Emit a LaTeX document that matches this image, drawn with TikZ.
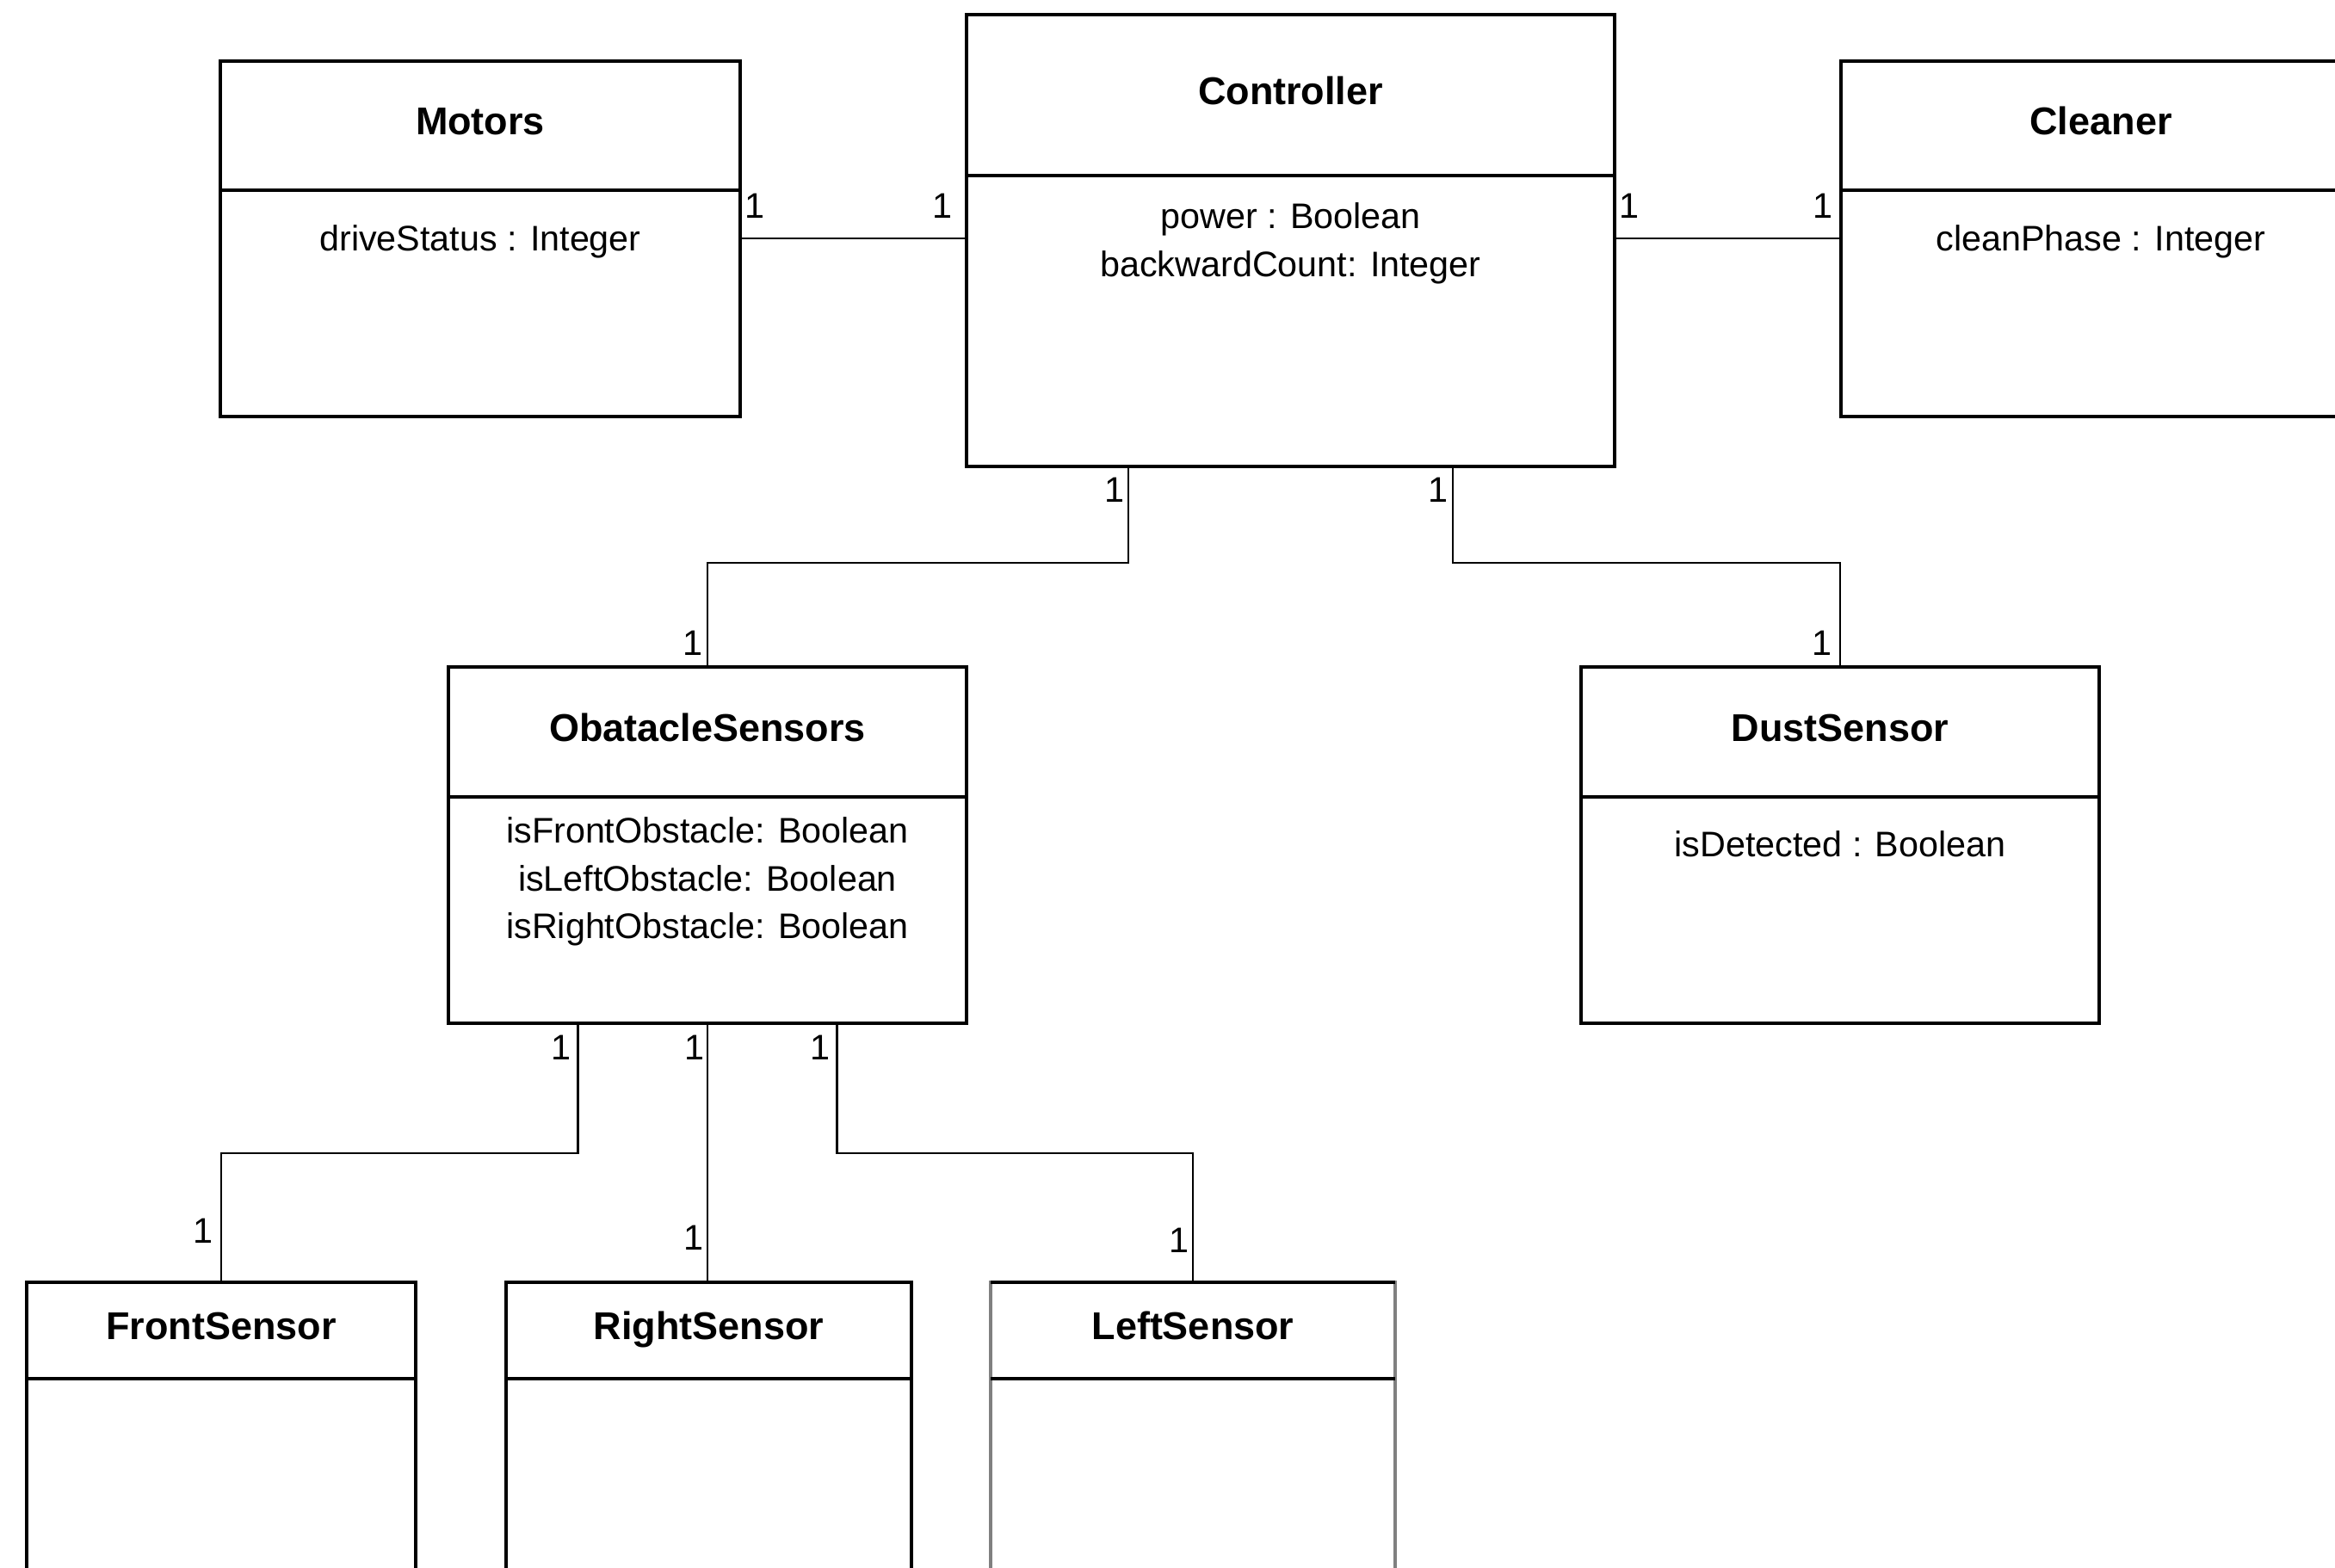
\documentclass[tikz,border=0pt]{standalone}
\usepackage{fontspec}
\setmainfont{Liberation Sans}
\usetikzlibrary{positioning,calc}
\newcommand{\titlefont}{\fontsize{12.8}{15}\selectfont\bfseries}
\newcommand{\attrfont}{\fontsize{11.75}{15.8}\selectfont}
\tikzset{
  clshead/.style={draw, line width=0.9pt, inner sep=0pt, outer sep=0pt, anchor=north west, font=\titlefont, text height=0.72em, text depth=0.1em},
  clsbody/.style={draw, line width=0.9pt, inner sep=0pt, outer sep=0pt},
  attr/.style={font=\attrfont, align=center, inner sep=0pt, anchor=north},
  mult/.style={font=\attrfont, inner sep=0pt},
  assoc/.style={line width=0.7pt}
}

\begin{document}
\begin{tikzpicture}
\clip (0,0) rectangle (27.13,-18.21);
\fill[white] (0,0) rectangle (27.13,-18.21);

\node[clshead, minimum width=6.04cm, minimum height=1.50cm] (motorsH) at (2.56,-0.71) {Motors};
\node[clsbody, minimum width=6.04cm, minimum height=2.63cm, below=0pt of motorsH] (motorsB) {};
\node[attr] (driveStatus) at ([yshift=-0.40cm]motorsB.north) {driveStatus : Integer};

\node[clshead, minimum width=7.53cm, minimum height=1.87cm] (ctrlH) at (11.23,-0.17) {Controller};
\node[clsbody, minimum width=7.53cm, minimum height=3.38cm, below=0pt of ctrlH] (ctrlB) {};
\node[attr] (ctrlAttr) at ([yshift=-0.31cm]ctrlB.north) {power : Boolean\\backwardCount: Integer};

\node[clshead, minimum width=6.04cm, minimum height=1.50cm] (cleanerH) at (21.39,-0.71) {Cleaner};
\node[clsbody, minimum width=6.04cm, minimum height=2.63cm, below=0pt of cleanerH] (cleanerB) {};
\node[attr] (cleanPhase) at ([yshift=-0.40cm]cleanerB.north) {cleanPhase : Integer};

\node[clshead, minimum width=6.02cm, minimum height=1.51cm] (obstH) at (5.21,-7.75) {ObatacleSensors};
\node[clsbody, minimum width=6.02cm, minimum height=2.63cm, below=0pt of obstH] (obstB) {};
\node[attr] (obstAttr) at ([yshift=-0.23cm]obstB.north) {isFrontObstacle: Boolean\\isLeftObstacle: Boolean\\isRightObstacle: Boolean};

\node[clshead, minimum width=6.02cm, minimum height=1.51cm] (dustH) at (18.37,-7.75) {DustSensor};
\node[clsbody, minimum width=6.02cm, minimum height=2.63cm, below=0pt of dustH] (dustB) {};
\node[attr] (isDetected) at ([yshift=-0.39cm]dustB.north) {isDetected : Boolean};

\node[clshead, minimum width=4.52cm, minimum height=1.12cm] (frontH) at (0.31,-14.90) {FrontSensor};
\node[clsbody, minimum width=4.52cm, minimum height=3.50cm, below=0pt of frontH] (frontB) {};

\node[clshead, minimum width=4.71cm, minimum height=1.12cm] (rightH) at (5.88,-14.90) {RightSensor};
\node[clsbody, minimum width=4.71cm, minimum height=3.50cm, below=0pt of rightH] (rightB) {};

\node[clshead, draw=black!50, minimum width=4.70cm, minimum height=1.12cm] (leftH) at (11.51,-14.90) {LeftSensor};
\node[clsbody, draw=black!50, minimum width=4.70cm, minimum height=3.50cm, below=0pt of leftH] (leftB) {};
\draw[line width=0.9pt] (leftH.north west) -- (leftH.north east);
\draw[line width=0.9pt] (leftH.south west) -- (leftH.south east);

\coordinate (mc) at ([yshift=-0.56cm]motorsB.north east);
\coordinate (cc) at ([yshift=-0.56cm]cleanerB.north west);
\coordinate (c1) at ($(ctrlB.south west)!0.25!(ctrlB.south east)$);
\coordinate (c2) at ($(ctrlB.south west)!0.75!(ctrlB.south east)$);
\coordinate (o1) at ($(obstB.south west)!0.25!(obstB.south east)$);
\coordinate (o3) at ($(obstB.south west)!0.75!(obstB.south east)$);

\draw[assoc] (mc) node[mult, xshift=0.17cm, yshift=0.38cm] {1} -- (mc -| ctrlB.west) node[mult, xshift=-0.28cm, yshift=0.38cm] {1};
\draw[assoc] (cc -| ctrlB.east) node[mult, xshift=0.17cm, yshift=0.38cm] {1} -- (cc) node[mult, xshift=-0.21cm, yshift=0.38cm] {1};
\draw[assoc] (c1) node[mult, xshift=-0.16cm, yshift=-0.27cm] {1} -- ++(0,-1.12) -| (obstH.north) node[mult, xshift=-0.17cm, yshift=0.28cm] {1};
\draw[assoc] (c2) node[mult, xshift=-0.17cm, yshift=-0.27cm] {1} -- ++(0,-1.12) -| (dustH.north) node[mult, xshift=-0.21cm, yshift=0.28cm] {1};
\draw[assoc] (o1) node[mult, xshift=-0.20cm, yshift=-0.28cm] {1} -- ++(0,-1.51) -| (frontH.north) node[mult, xshift=-0.21cm, yshift=0.60cm] {1};
\draw[assoc] (obstB.south) node[mult, xshift=-0.15cm, yshift=-0.28cm] {1} -- (obstB.south |- rightH.north) node[mult, xshift=-0.16cm, yshift=0.52cm] {1};
\draw[assoc] (o3) node[mult, xshift=-0.20cm, yshift=-0.28cm] {1} -- ++(0,-1.51) -| (leftH.north) node[mult, xshift=-0.16cm, yshift=0.49cm] {1};
\end{tikzpicture}
\end{document}
